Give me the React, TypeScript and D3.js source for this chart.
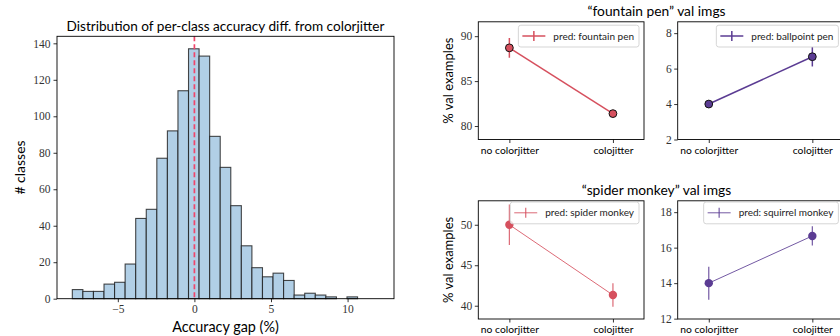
import React, { useRef, useEffect } from 'react';
import * as d3 from 'd3';

// histogram of per-class accuracy gaps (29 equal bins)
const binLo = -7.97;
const binHi = 12.03;
const counts = [5, 4, 4, 8, 9, 19, 44, 49, 77, 92, 114, 137, 133, 89, 72, 51, 29, 17, 12, 14, 10, 2, 3, 2, 1, 0, 1, 0, 0];
const histXTicks = [-5, 0, 5, 10];
const histYTicks = [0, 20, 40, 60, 80, 100, 120, 140];

// small panels
const conditions = ['no colorjitter', 'colojitter'];
const rowTitles = ['\u201Cfountain pen\u201D val imgs', '\u201Cspider monkey\u201D val imgs'];
const predLabels = ['pred: fountain pen', 'pred: ballpoint pen', 'pred: spider monkey', 'pred: squirrel monkey'];
const predMeans = [[88.7, 81.38], [4.0, 6.67], [50.0, 41.32], [14.0, 16.66]];
const predErrs = [[1.1, 0.3], [0.2, 0.55], [2.5, 1.45], [0.93, 0.54]];
const panelYLims = [[78.5, 91.6], [2, 8.64], [38.36, 52.96], [11.98, 18.64]];
const panelYTicks = [[80, 85, 90], [2, 4, 6, 8], [40, 45, 50], [12, 14, 16, 18]];

const seriesColors = ['#d6505e', '#5b3c93', '#d6505e', '#5b3c93'];

const SANS = 'Lato, sans-serif';
const SERIF = '"Liberation Serif", serif';

const HIST = { left: 57, right: 394, top: 36.3, bottom: 298.7 };
const COLS = [[478.3, 644], [677.7, 843.4]];
const ROWS = [[21.8, 139.5], [200.8, 319]];

const styleAxis = (g: any, font: string, size: number) => {
  g.select('.domain').remove();
  g.selectAll('.tick line').attr('stroke', '#000').attr('stroke-width', 0.8);
  g.selectAll('.tick text').attr('fill', '#333').style('font-family', font).style('font-size', size + 'px');
};

const App: React.FC = () => {
  const ref = useRef<SVGSVGElement>(null);

  useEffect(() => {
    if (!ref.current) return;
    const svg = d3.select(ref.current);
    svg.selectAll('*').remove();

    // ---------- histogram ----------
    const span = binHi - binLo;
    const x = d3.scaleLinear().domain([binLo - 0.05 * span, binHi + 0.05 * span]).range([HIST.left, HIST.right]);
    const y = d3.scaleLinear().domain([0, (d3.max(counts) as number) * 1.05]).range([HIST.bottom, HIST.top]);
    const bw = span / counts.length;
    const h = svg.append('g');

    h.selectAll('rect.bar')
      .data(counts)
      .join('rect')
      .attr('class', 'bar')
      .attr('x', (d: number, i: number) => x(binLo + i * bw))
      .attr('width', x(binLo + bw) - x(binLo))
      .attr('y', (d: number) => y(d))
      .attr('height', (d: number) => y(0) - y(d))
      .attr('fill', '#b1cfe6')
      .attr('stroke', '#1a1a1a')
      .attr('stroke-opacity', 0.8)
      .attr('stroke-width', 1.1);

    h.append('line')
      .attr('x1', x(0)).attr('x2', x(0))
      .attr('y1', HIST.top).attr('y2', HIST.bottom)
      .attr('stroke', '#f0456b')
      .attr('stroke-width', 1.7)
      .attr('stroke-dasharray', '5,3');

    h.append('rect')
      .attr('x', HIST.left).attr('y', HIST.top)
      .attr('width', HIST.right - HIST.left).attr('height', HIST.bottom - HIST.top)
      .attr('fill', 'none').attr('stroke', '#000').attr('stroke-width', 0.9);

    h.append('g')
      .attr('transform', `translate(0,${HIST.bottom})`)
      .call(d3.axisBottom(x).tickValues(histXTicks).tickSize(3.5).tickPadding(3))
      .call((g: any) => styleAxis(g, SERIF, 11.5));
    h.append('g')
      .attr('transform', `translate(${HIST.left},0)`)
      .call(d3.axisLeft(y).tickValues(histYTicks).tickSize(3.5).tickPadding(3))
      .call((g: any) => styleAxis(g, SERIF, 11.5));

    h.append('text')
      .attr('x', (HIST.left + HIST.right) / 2).attr('y', 30.5)
      .attr('text-anchor', 'middle')
      .style('font-family', SANS).style('font-size', '13.6px')
      .text('Distribution of per-class accuracy diff. from colorjitter');
    h.append('text')
      .attr('x', (HIST.left + HIST.right) / 2).attr('y', 332)
      .attr('text-anchor', 'middle')
      .style('font-family', SANS).style('font-size', '14.4px')
      .text('Accuracy gap (%)');
    h.append('text')
      .attr('transform', `translate(25,${(HIST.top + HIST.bottom) / 2}) rotate(-90)`)
      .attr('text-anchor', 'middle')
      .style('font-family', SANS).style('font-size', '14px')
      .text('# classes');

    // ---------- small panels ----------
    predMeans.forEach((means, i) => {
      const row = Math.floor(i / 2);
      const col = i % 2;
      const [left, right] = COLS[col];
      const [top, bottom] = ROWS[row];
      const color = seriesColors[i];
      const heavy = row === 0;
      const px = d3.scalePoint().domain(conditions).range([left, right]).padding(0.3);
      const py = d3.scaleLinear().domain(panelYLims[i]).range([bottom, top]);
      const p = svg.append('g');

      const line = d3.line<number>()
        .x((d: number, j: number) => px(conditions[j]) as number)
        .y((d: number) => py(d));

      p.append('path')
        .datum(means)
        .attr('d', line)
        .attr('fill', 'none')
        .attr('stroke', color)
        .attr('stroke-opacity', heavy ? 1 : 0.85)
        .attr('stroke-width', heavy ? 1.5 : 1);

      p.selectAll('line.err')
        .data(means)
        .join('line')
        .attr('class', 'err')
        .attr('x1', (d: number, j: number) => px(conditions[j]) as number)
        .attr('x2', (d: number, j: number) => px(conditions[j]) as number)
        .attr('y1', (d: number, j: number) => py(d + predErrs[i][j]))
        .attr('y2', (d: number, j: number) => py(d - predErrs[i][j]))
        .attr('stroke', color)
        .attr('stroke-opacity', heavy ? 1 : 0.85)
        .attr('stroke-width', heavy ? 1.5 : 1.2);

      p.selectAll('circle')
        .data(means)
        .join('circle')
        .attr('cx', (d: number, j: number) => px(conditions[j]) as number)
        .attr('cy', (d: number) => py(d))
        .attr('r', heavy ? 3.9 : 4.2)
        .attr('fill', color)
        .attr('stroke', heavy ? '#111' : 'none')
        .attr('stroke-width', 1);

      p.append('rect')
        .attr('x', left).attr('y', top)
        .attr('width', right - left).attr('height', bottom - top)
        .attr('fill', 'none').attr('stroke', '#000').attr('stroke-width', 0.9);

      p.append('g')
        .attr('transform', `translate(0,${bottom})`)
        .call(d3.axisBottom(px).tickSize(3.5).tickPadding(3.5))
        .call((g: any) => styleAxis(g, SANS, 10.3));
      p.selectAll('g .tick text').attr('fill', '#000');
      p.append('g')
        .attr('transform', `translate(${left},0)`)
        .call(d3.axisLeft(py).tickValues(panelYTicks[i]).tickSize(3.5).tickPadding(2.5).tickFormat(d3.format('d')))
        .call((g: any) => styleAxis(g, SERIF, 11.5));

      // legend
      const lg = p.append('g');
      const boxTop = top + (heavy ? 3.4 : 1.2);
      const txt = lg.append('text')
        .style('font-family', SANS).style('font-size', '10px')
        .attr('fill', '#222')
        .text(predLabels[i]);
      const tw = (txt.node() as SVGTextElement).getComputedTextLength();
      const boxW = 35 + tw + 5;
      const boxLeft = right - 5 - boxW;
      const midY = boxTop + 10.8;
      lg.insert('rect', 'text')
        .attr('x', boxLeft).attr('y', boxTop)
        .attr('width', boxW).attr('height', 21.8)
        .attr('rx', 2.5)
        .attr('fill', '#fff').attr('fill-opacity', 0.8)
        .attr('stroke', '#d0d0d0').attr('stroke-width', 0.9);
      txt.attr('x', boxLeft + 35).attr('y', midY + 3.5);
      lg.append('line')
        .attr('x1', boxLeft + 4).attr('x2', boxLeft + 27)
        .attr('y1', midY).attr('y2', midY)
        .attr('stroke', color).attr('stroke-opacity', heavy ? 1 : 0.85)
        .attr('stroke-width', heavy ? 1.5 : 1);
      lg.append('line')
        .attr('x1', boxLeft + 15.5).attr('x2', boxLeft + 15.5)
        .attr('y1', midY - 5).attr('y2', midY + 5)
        .attr('stroke', color).attr('stroke-opacity', heavy ? 1 : 0.85)
        .attr('stroke-width', heavy ? 1.5 : 1.2);

      if (col === 0) {
        p.append('text')
          .attr('transform', `translate(453,${(top + bottom) / 2}) rotate(-90)`)
          .attr('text-anchor', 'middle')
          .style('font-family', SANS).style('font-size', '13px')
          .text('% val examples');
        p.append('text')
          .attr('x', 656.5).attr('y', top - 5.5)
          .attr('text-anchor', 'middle')
          .style('font-family', SANS).style('font-size', '13.8px')
          .text(rowTitles[row]);
      }
    });
  }, []);

  return (
    <svg
      ref={ref}
      width={840}
      height={336}
      style={{ position: 'absolute', left: 0, top: 0, background: '#fff' }}
    />
  );
};

export default App;
